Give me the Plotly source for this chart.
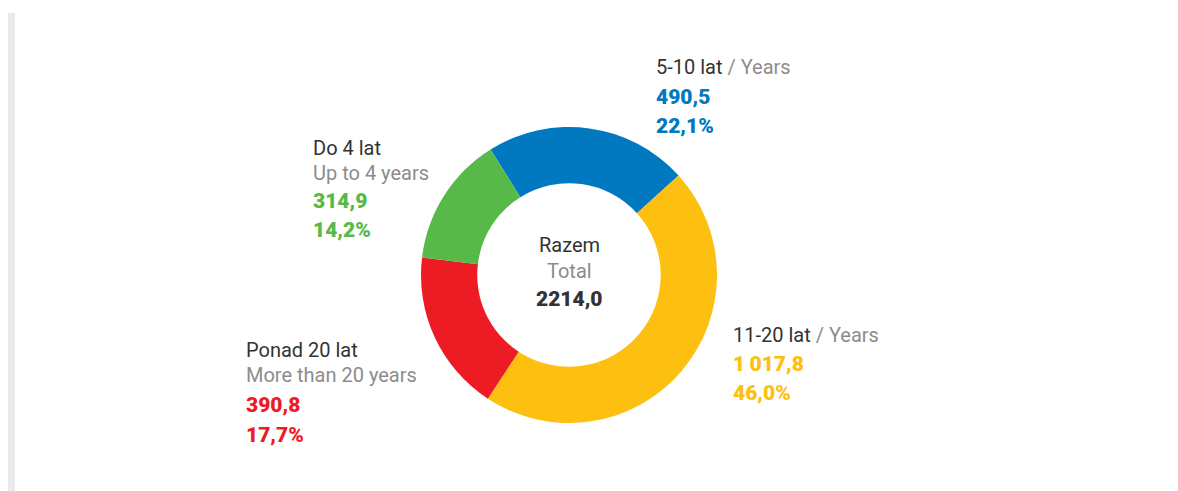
import plotly.graph_objects as go

# ==========================
# DATA
# ==========================
labels_pl = ["5-10 lat", "11-20 lat", "Ponad 20 lat", "Do 4 lat"]
labels_en = ["Years", "Years", "More than 20 years", "Up to 4 years"]
values = [490.5, 1017.8, 390.8, 314.9]
percents = [22.1, 46.0, 17.7, 14.2]
colors = ['#0079C1', '#FDC010', '#ED1C24', '#57B947']
total = 2214.0

W, H = 1178, 491


def px_x(x):
    return x / W


def px_y(y):
    return 1 - y / H


def fmt_num(v, sep='\u2009'):
    whole, dec = f"{v:.1f}".split('.')
    if len(whole) > 3:
        whole = whole[:-3] + sep + whole[-3:]
    return whole + ',' + dec


fig = go.Figure()

# ==========================
# DONUT
# ==========================
cx, cy, r = 569, 275, 148
fig.add_trace(go.Pie(
    values=values,
    labels=labels_pl,
    marker=dict(colors=colors, line=dict(width=0)),
    hole=0.62,
    sort=False,
    direction='clockwise',
    rotation=-32,
    textinfo='none',
    showlegend=False,
    domain=dict(x=[px_x(cx - r), px_x(cx + r)], y=[px_y(cy + r), px_y(cy - r)])
))

DARK = '#333333'
GREY = '#8C8C8C'
FONT = 'Roboto'

annotations = []


def add_line(x, y, text, color, bold=False, anchor='left'):
    annotations.append(dict(
        x=px_x(x), y=px_y(y), xref='paper', yref='paper',
        text=text, showarrow=False, xanchor=anchor, yanchor='middle',
        font=dict(family=FONT, size=21 if bold else 20, color=color,
                  weight=900 if bold else 400)
    ))


# 5-10 lat
add_line(654, 67, f"{labels_pl[0]} <span style='color:{GREY}'>/ {labels_en[0]}</span>", DARK)
add_line(654, 97, fmt_num(values[0]), colors[0], bold=True)
add_line(654, 126, fmt_num(percents[0]) + '%', colors[0], bold=True)

# 11-20 lat
add_line(731, 335, f"{labels_pl[1]} <span style='color:{GREY}'>/ {labels_en[1]}</span>", DARK)
add_line(731, 364, fmt_num(values[1]), colors[1], bold=True)
add_line(731, 393, fmt_num(percents[1]) + '%', colors[1], bold=True)

# Ponad 20 lat
add_line(244, 350, labels_pl[2], DARK)
add_line(244, 375, labels_en[2], GREY)
add_line(244, 405, fmt_num(values[2]), colors[2], bold=True)
add_line(244, 435, fmt_num(percents[2]) + '%', colors[2], bold=True)

# Do 4 lat
add_line(311, 148, labels_pl[3], DARK)
add_line(311, 173, labels_en[3], GREY)
add_line(311, 201, fmt_num(values[3]), colors[3], bold=True)
add_line(311, 230, fmt_num(percents[3]) + '%', colors[3], bold=True)

# centre
add_line(569, 245, "Razem", DARK, anchor='center')
add_line(569, 271, "Total", GREY, anchor='center')
add_line(569, 299, fmt_num(total, sep=''), DARK, bold=True, anchor='center')

fig.update_layout(
    width=W, height=H,
    margin=dict(l=0, r=0, t=0, b=0),
    paper_bgcolor='white',
    plot_bgcolor='white',
    annotations=annotations,
    shapes=[dict(
        type='rect', xref='paper', yref='paper',
        x0=px_x(8), x1=px_x(15), y0=px_y(491), y1=px_y(13),
        fillcolor='#EAEAEC', line=dict(width=0), layer='below'
    )]
)

fig.write_html("out.html", config={'displayModeBar': False},
               post_script="document.body.style.margin='0';")
